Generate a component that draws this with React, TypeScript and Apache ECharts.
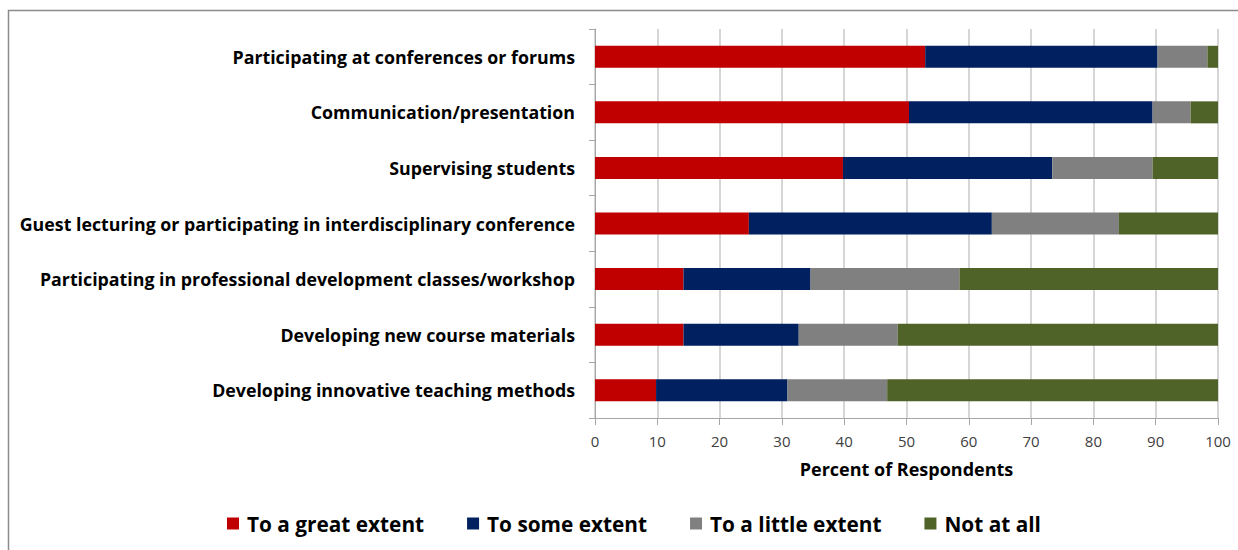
import React, { useEffect, useRef } from "react";
import * as echarts from "echarts";

const categories = [
  "Participating at conferences or forums",
  "Communication/presentation",
  "Supervising students",
  "Guest lecturing or participating in interdisciplinary conference",
  "Participating in professional development classes/workshop",
  "Developing new course materials",
  "Developing innovative teaching methods",
];

const greatExtent = [53.0, 50.4, 39.8, 24.7, 14.2, 14.2, 9.8];
const someExtent = [37.3, 39.1, 33.6, 39.0, 20.4, 18.5, 21.1];
const littleExtent = [8.0, 6.1, 16.1, 20.4, 23.9, 15.9, 16.0];
const notAtAll = [1.7, 4.4, 10.5, 15.9, 41.5, 51.4, 53.1];

const seriesNames = ["To a great extent", "To some extent", "To a little extent", "Not at all"];
const seriesColors = ["#C00000", "#002060", "#808080", "#4F6228"];
const xTicks = [0, 10, 20, 30, 40, 50, 60, 70, 80, 90, 100];

const FONT = "'Open Sans', 'Noto Sans', sans-serif";

export default function App() {
  const ref = useRef<HTMLDivElement>(null);
  useEffect(() => {
    document.body.style.margin = "0";
    if (!ref.current) return;
    const chart = echarts.init(ref.current, null, { renderer: "svg" });
    const values = [greatExtent, someExtent, littleExtent, notAtAll];
    chart.setOption({
      animation: false,
      backgroundColor: "#ffffff",
      textStyle: { fontFamily: FONT },
      graphic: [
        {
          type: "rect",
          shape: { x: 8.5, y: 10.5, width: 1240, height: 560 },
          style: { fill: "none", stroke: "#8c8c8c", lineWidth: 1.5 },
          silent: true,
        },
      ],
      grid: { left: 595, right: 20, top: 29, bottom: 132 },
      legend: {
        bottom: 11,
        left: 222,
        icon: "rect",
        itemWidth: 12,
        itemHeight: 12,
        itemGap: 43,
        textStyle: {
          fontFamily: FONT,
          fontSize: 20.8,
          fontWeight: "bold",
          color: "#000",
          padding: [0, 0, 0, 3],
        },
        data: seriesNames,
      },
      xAxis: {
        type: "value",
        min: xTicks[0],
        max: xTicks[xTicks.length - 1],
        interval: 10,
        name: "Percent of Respondents",
        nameLocation: "middle",
        nameGap: 42,
        nameTextStyle: { fontFamily: FONT, fontSize: 18, fontWeight: "bold", color: "#000" },
        axisLine: { show: true, lineStyle: { color: "#a6a6a6", width: 1 } },
        axisTick: { show: true, length: 7, lineStyle: { color: "#a6a6a6" } },
        axisLabel: { fontFamily: FONT, fontSize: 15, color: "#404040", margin: 15 },
        splitLine: { show: true, lineStyle: { color: "#c8c8c8", width: 1.5 } },
      },
      yAxis: {
        type: "category",
        data: categories,
        inverse: true,
        axisLine: { show: true, lineStyle: { color: "#a6a6a6", width: 1 } },
        axisTick: { show: true, length: 6, lineStyle: { color: "#a6a6a6" } },
        axisLabel: {
          fontFamily: FONT,
          fontSize: 17.8,
          fontWeight: "bold",
          color: "#000",
          margin: 20,
        },
      },
      series: seriesNames.map((name, i) => ({
        name,
        type: "bar",
        stack: "total",
        barWidth: 22,
        itemStyle: { color: seriesColors[i] },
        data: values[i],
      })),
    });
    return () => chart.dispose();
  }, []);
  return <div ref={ref} style={{ width: 1238, height: 550 }} />;
}
